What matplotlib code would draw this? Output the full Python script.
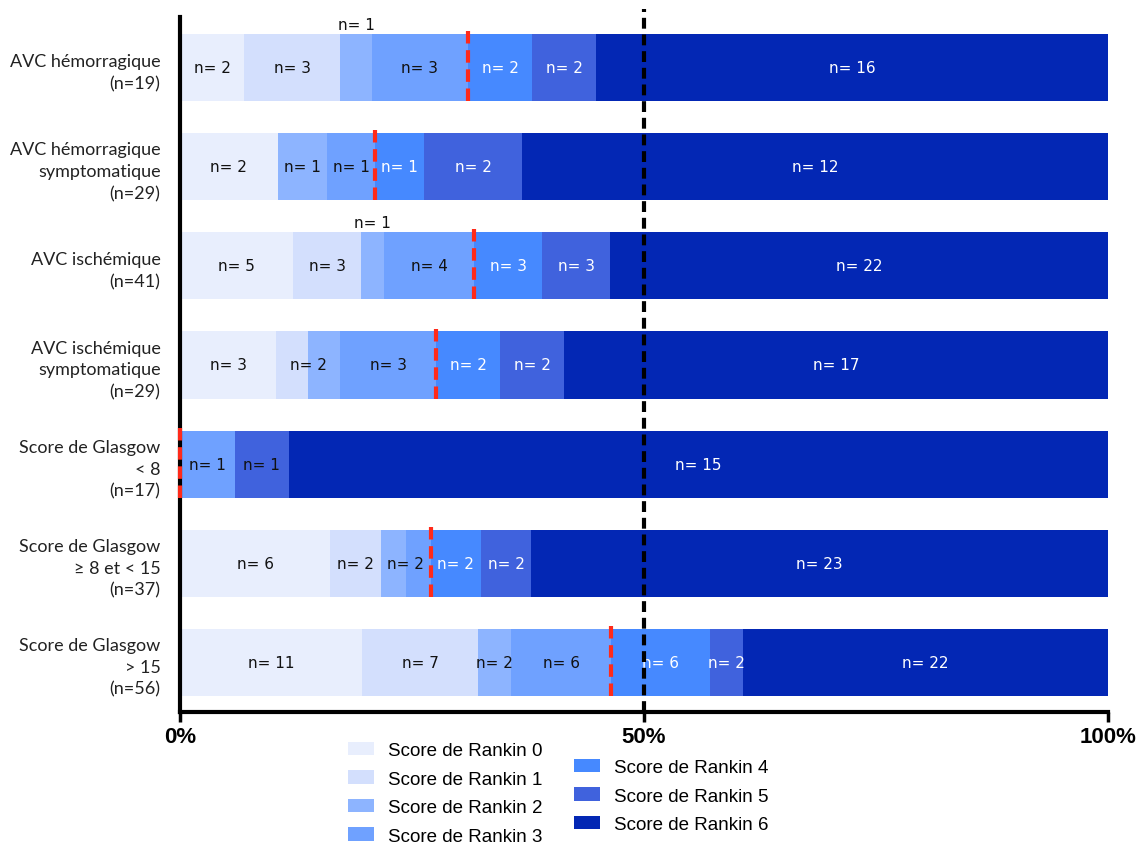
import numpy as np
import matplotlib
matplotlib.use("Agg")
from matplotlib import pyplot as plt
from matplotlib.patches import Patch

# data, one list per Rankin score, rows top to bottom
categories = ["AVC hémorragique\n(n=19)",
              "AVC hémorragique\nsymptomatique\n(n=29)",
              "AVC ischémique\n(n=41)",
              "AVC ischémique\nsymptomatique\n(n=29)",
              "Score de Glasgow\n< 8\n(n=17)",
              "Score de Glasgow\n≥ 8 et < 15\n(n=37)",
              "Score de Glasgow\n> 15\n(n=56)"]

rankin0 = [2, 2, 5, 3, 0, 6, 11]
rankin1 = [3, 0, 3, 1, 0, 2, 7]
rankin2 = [1, 1, 1, 1, 0, 1, 2]
rankin3 = [3, 1, 4, 3, 1, 1, 6]
rankin4 = [2, 1, 3, 2, 0, 2, 6]
rankin5 = [2, 2, 3, 2, 1, 2, 2]
rankin6 = [16, 12, 22, 17, 15, 23, 22]

# patients with good outcome (red dashed marker)
good_outcome = [9, 4, 13, 8, 0, 10, 26]

legend_labels = ["Score de Rankin %d" % i for i in range(7)]
colors = ["#E8EEFD", "#D3DFFD", "#8DB4FF", "#6FA1FF", "#4689FF", "#4062DD", "#0327B4"]
text_colors = ["#111111"] * 4 + ["white"] * 3

# label tweaks as on the original figure
above = {0: 2, 2: 2}            # row: segment drawn above the bar
merged = {3: (1, 2), 5: (2, 3)}  # row: segments sharing one label
dark_override = {(4, 5)}         # (row, segment) with dark text

counts = np.array([rankin0, rankin1, rankin2, rankin3, rankin4, rankin5, rankin6], dtype=float)
totals = counts.sum(axis=0)
pct = counts / totals * 100

fig = plt.figure(figsize=(11.44, 8.45), dpi=100)
ax = fig.add_axes([180/1144, 1 - 713/845, 928/1144, 695/845])

y = np.arange(len(categories))
bar_h = 0.676
left = np.zeros(len(categories))
for k in range(7):
    ax.barh(y, pct[k], left=left, height=bar_h, color=colors[k], linewidth=0)
    for r in range(len(categories)):
        c = int(counts[k, r])
        if c == 0:
            continue
        xc = left[r] + pct[k, r] / 2
        yc = y[r]
        txt = "n= %d" % c
        tc = text_colors[k]
        if (r, k) in dark_override:
            tc = "#111111"
        if above.get(r) == k:
            yc = y[r] - bar_h / 2 - 0.1
            tc = "#111111"
        if r in merged:
            a, b = merged[r]
            if k == b:
                continue
            if k == a:
                txt = "n= %d" % int(counts[a, r] + counts[b, r])
                xc = left[r] + (pct[a, r] + pct[b, r]) / 2
        ax.text(xc, yc, txt, ha="center", va="center", fontsize=11,
                color=tc, family="DejaVu Sans")
    left += pct[k]

# red dashed markers
for r in range(len(categories)):
    xr = good_outcome[r] / totals[r] * 100
    ax.plot([xr, xr], [y[r] - bar_h / 2 - 0.03, y[r] + bar_h / 2 + 0.03],
            color="#FF2A1A", lw=3, dashes=(3, 1.6), clip_on=False, zorder=5)

# 50% line
ax.axvline(50, ymin=0, ymax=1.012, color="black", lw=3, dashes=(2.6, 1.4),
           clip_on=False, zorder=6)

ax.set_xlim(0, 100)
ax.set_ylim(6.5, -0.51)
ax.set_yticks(y)
ax.set_yticklabels(categories, family="Lato", fontsize=13, color="#222222",
                   multialignment="right", linespacing=1.45)
ax.tick_params(axis="y", length=0, pad=14)
ax.set_xticks([0, 50, 100])
ax.set_xticklabels(["0%", "50%", "100%"], fontweight="bold", fontsize=16,
                   family="Liberation Sans")
ax.tick_params(axis="x", length=7, width=2.5, pad=3)
for s in ["top", "right"]:
    ax.spines[s].set_visible(False)
for s in ["left", "bottom"]:
    ax.spines[s].set_linewidth(3)

handles = [Patch(facecolor=colors[k], edgecolor="none") for k in range(7)]
leg_kw = dict(frameon=False, handlelength=1.4, handleheight=0.72,
              handletextpad=0.75, labelspacing=0.6, borderpad=0, borderaxespad=0,
              prop={"family": "Liberation Sans", "size": 13.5})
fig.legend(handles[:4], legend_labels[:4], loc="upper left",
           bbox_to_anchor=(348/1144, 1 - 743/845), **leg_kw)
fig.legend(handles[4:], legend_labels[4:], loc="upper left",
           bbox_to_anchor=(574/1144, 1 - 760/845), **leg_kw)

fig.savefig("out.png", dpi=100)
